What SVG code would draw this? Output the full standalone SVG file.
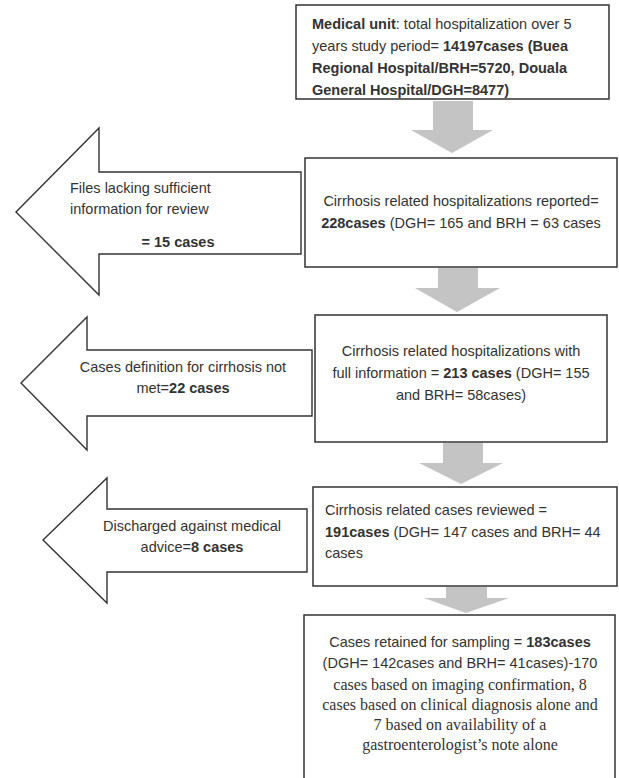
<svg xmlns="http://www.w3.org/2000/svg" width="619" height="778" viewBox="0 0 619 778">
<style>
.box{fill:#fff;stroke:#333;stroke-width:1.5}
.out{fill:#fff;stroke:#333;stroke-width:1.4;stroke-linejoin:miter}
.down{fill:#c4c4c4;stroke:none}
text{font-family:"Liberation Sans",Arial,sans-serif;font-size:14.5px;fill:#333}
.b{font-weight:bold}
.c{text-anchor:middle}
.serif{font-family:"Liberation Serif","Times New Roman",serif;font-size:16px}
</style>
<rect width="619" height="778" fill="#fff"/>
<g id="connectors">
<polygon class="down" points="433,101 473,101 473,130 493,130 452,153 411,130 433,130"/>
<polygon class="down" points="438,268 478,268 478,288 500,288 457,312 415,288 438,288"/>
<polygon class="down" points="443,443 483,443 483,463 503,463 461,484 419,463 443,463"/>
<polygon class="down" points="446,587 487,587 487,598 509,598 466,613 424,598 446,598"/>
</g>
<g id="n1">
<rect class="box" x="296" y="5" width="313" height="94"/>
<text x="312" y="29"><tspan class="b">Medical unit</tspan>: total hospitalization over 5</text>
<text x="312" y="51">years study period= <tspan class="b">14197cases (Buea</tspan></text>
<text x="312" y="73" class="b">Regional Hospital/BRH=5720, Douala</text>
<text x="312" y="95" class="b">General Hospital/DGH=8477)</text>
</g>
<g id="n2">
<rect class="box" x="305" y="158" width="312" height="109"/>
<text x="461" y="206" class="c">Cirrhosis related hospitalizations reported=</text>
<text x="461" y="228" class="c"><tspan class="b">228cases</tspan> (DGH= 165 and BRH = 63 cases</text>
</g>
<g id="x1">
<polygon class="out" points="16,212 99,128 99,172 301,172 301,254 99,254 99,295"/>
<text x="70" y="193">Files lacking sufficient</text>
<text x="70" y="214">information for review</text>
<text x="178" y="247" class="b c">= 15 cases</text>
</g>
<g id="n3">
<rect class="box" x="315" y="315" width="292" height="127"/>
<text x="461" y="356" class="c">Cirrhosis related hospitalizations with</text>
<text x="461" y="378" class="c">full information = <tspan class="b">213 cases</tspan> (DGH= 155</text>
<text x="461" y="400" class="c">and BRH= 58cases)</text>
</g>
<g id="x2">
<polygon class="out" points="21,383 87,317 87,350 312,350 312,416 87,416 87,450"/>
<text x="183" y="372" class="c">Cases definition for cirrhosis not</text>
<text x="183" y="393" class="c">met=<tspan class="b">22 cases</tspan></text>
</g>
<g id="n4">
<rect class="box" x="313" y="487" width="304" height="99"/>
<text x="325" y="515">Cirrhosis related cases reviewed =</text>
<text x="325" y="537"><tspan class="b">191cases</tspan> (DGH= 147 cases and BRH= 44</text>
<text x="325" y="558">cases</text>
</g>
<g id="x3">
<polygon class="out" points="43,540 107,478 107,509 307,509 307,572 107,572 107,603"/>
<text x="192" y="531" class="c">Discharged against medical</text>
<text x="192" y="552" class="c">advice=<tspan class="b">8 cases</tspan></text>
</g>
<g id="n5">
<rect class="box" x="304" y="615" width="311" height="180"/>
<text x="460" y="647" class="c">Cases retained for sampling = <tspan class="b">183cases</tspan></text>
<text x="460" y="668" class="c">(DGH= 142cases and BRH= 41cases)-170</text>
<text x="460" y="690" class="c serif">cases based on imaging confirmation, 8</text>
<text x="460" y="710" class="c serif">cases based on clinical diagnosis alone and</text>
<text x="460" y="730" class="c serif">7 based on availability of a</text>
<text x="460" y="750" class="c serif">gastroenterologist’s note alone</text>
</g>
</svg>
